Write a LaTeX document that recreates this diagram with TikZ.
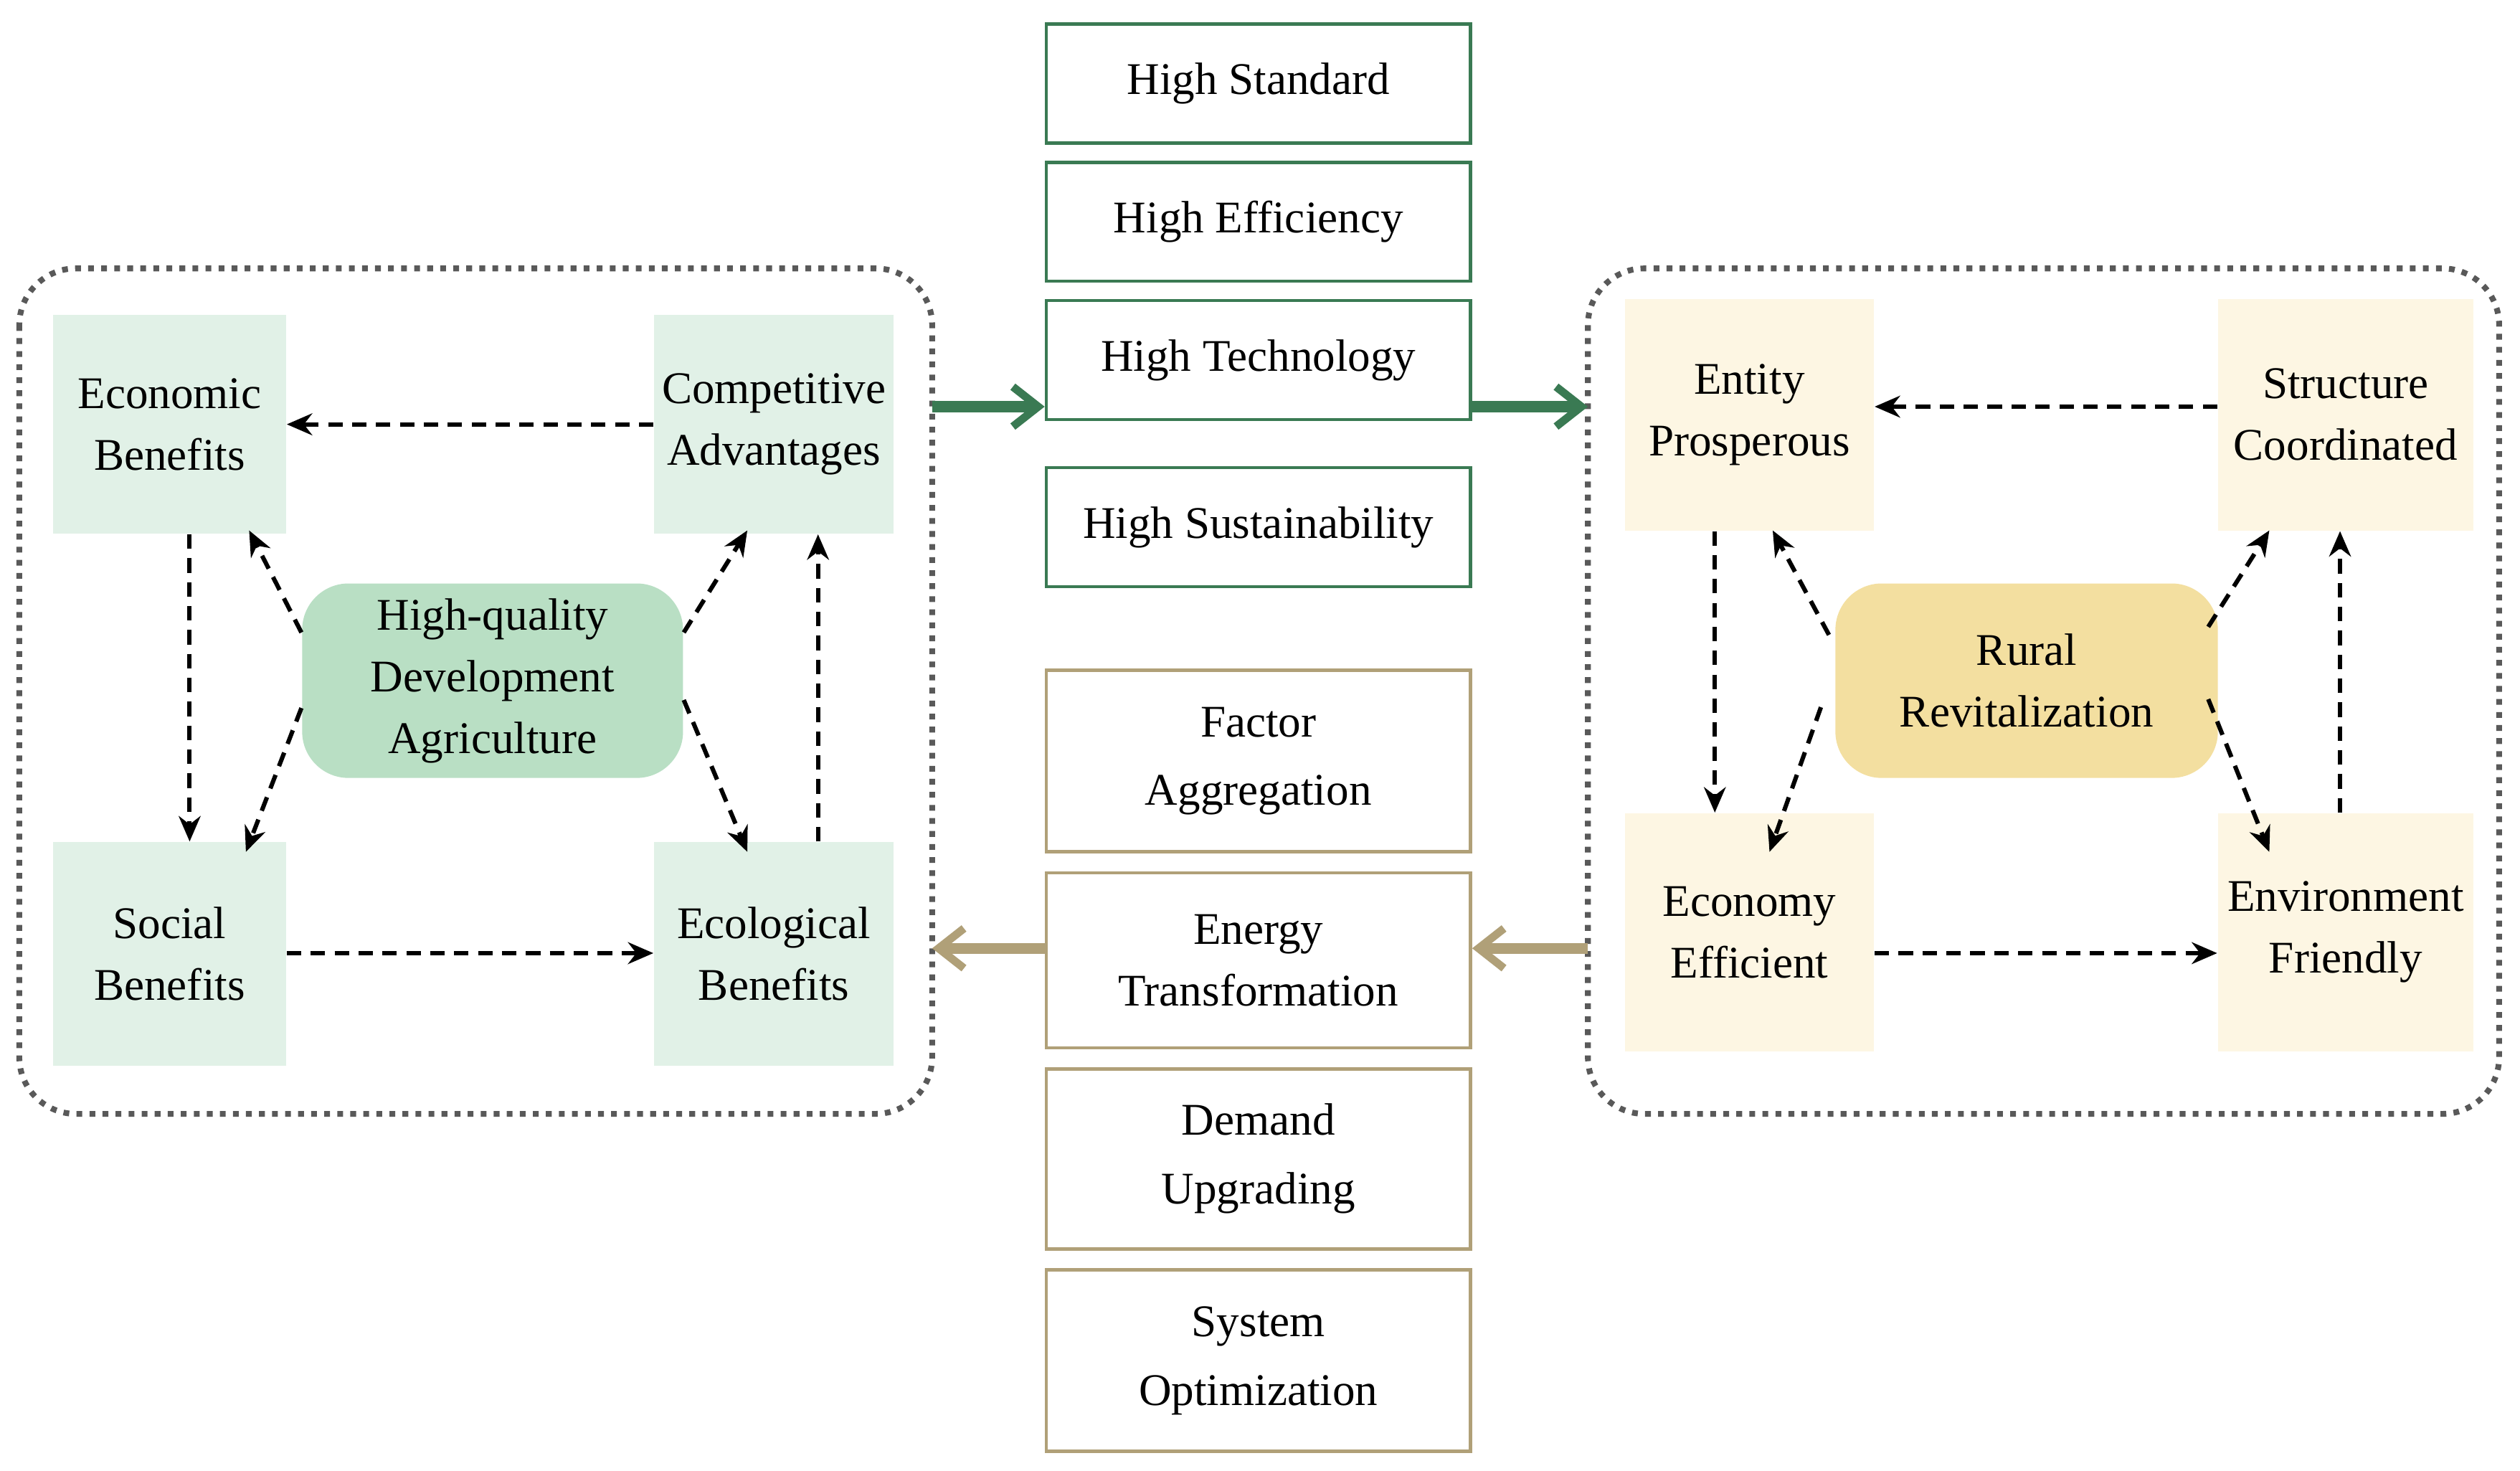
\documentclass[tikz,border=0pt]{standalone}
\usepackage{fontspec}
\setmainfont{Liberation Serif}
\usetikzlibrary{arrows.meta,calc}
\begin{document}
\begin{tikzpicture}[x=0.0156cm,y=-0.0156cm,
  every node/.style={font=\fontsize{12.5}{17}\selectfont, align=center, inner sep=0pt},
  gbox/.style={fill=green!45!cyan!8!white, fill=GL},
  ybox/.style={fill=YL},
  mg/.style={draw=MG, line width=0.9pt, fill=white},
  mb/.style={draw=MB, line width=0.9pt, fill=white},
  da/.style={dashed, dash pattern=on 4pt off 2.6pt, line width=1.2pt, -{Stealth[length=7pt,width=6pt]}},
  thk/.style={line width=3pt, -{Straight Barb[length=7pt,width=11pt,line width=2.2pt]}},
  dot/.style={draw=black!65, dotted, line width=1.6pt, rounded corners=0.55cm}]
\definecolor{GL}{HTML}{E1F1E7}\definecolor{GC}{HTML}{B9DFC4}
\definecolor{YL}{HTML}{FDF6E3}\definecolor{YC}{HTML}{F3DFA0}
\definecolor{MG}{HTML}{3A7A53}\definecolor{MB}{HTML}{B0A078}
\newcommand{\bx}[7]{\node[#6, minimum width={(#4-#2)*0.0156cm}, minimum height={(#5-#3)*0.0156cm}] (#1) at ({(#2+#4)/2},{(#3+#5)/2}) {#7};}
\useasboundingbox (0,0) rectangle (1568,915);
% dotted frames
\draw[dot] (12,167) rectangle (580,693);
\draw[dot] (988,167) rectangle (1555,693);
\coordinate (lfr) at (580,253); \coordinate (lfb) at (580,590);
\coordinate (rfl) at (988,253); \coordinate (rfb) at (988,590);
% left
\bx{eb}{33}{196}{178}{332}{fill=GL}{Economic\\Benefits}
\bx{ca}{407}{196}{556}{332}{fill=GL}{Competitive\\Advantages}
\bx{sb}{33}{524}{178}{663}{fill=GL}{Social\\Benefits}
\bx{ecb}{407}{524}{556}{663}{fill=GL}{Ecological\\Benefits}
\bx{hq}{188}{363}{425}{484}{fill=GC,rounded corners=0.45cm}{High-quality\\Development\\Agriculture}
\draw[da] (ca.west) -- (eb.east);
\draw[da] (eb.south-|118,0) -- (sb.north-|118,0);
\draw[da] (sb.east|-0,593) -- (ecb.west|-0,593);
\draw[da] (ecb.north-|509,0) -- (ca.south-|509,0);
\draw[da] ($(hq.west)+(0,-30)$) -- (155,330);
\draw[da] ($(hq.east)+(0,-30)$) -- (465,330);
\draw[da] ($(hq.west)+(0,17)$) -- (153,530);
\draw[da] ($(hq.east)+(0,12)$) -- (465,530);
% right
\bx{ep}{1011}{186}{1166}{330}{fill=YL}{Entity\\Prosperous}
\bx{sc}{1380}{186}{1539}{330}{fill=YL}{Structure\\Coordinated}
\bx{ee}{1011}{506}{1166}{654}{fill=YL}{Economy\\Efficient}
\bx{ef}{1380}{506}{1539}{654}{fill=YL}{Environment\\Friendly}
\bx{rr}{1142}{363}{1380}{484}{fill=YC,rounded corners=0.45cm}{Rural\\Revitalization}
\draw[da] (sc.west|-0,253) -- (ep.east|-0,253);
\draw[da] (ep.south-|1067,0) -- (ee.north-|1067,0);
\draw[da] (ee.east|-0,593) -- (ef.west|-0,593);
\draw[da] (ef.north-|1456,0) -- (sc.south-|1456,0);
\draw[da] (1138,395) -- (1103,330);
\draw[da] (1374,390) -- (1412,330);
\draw[da] (1133,440) -- (1101,530);
\draw[da] (1374,435) -- (1412,530);
% middle
\bx{hs}{651}{15}{915}{89}{mg}{High Standard}
\bx{he}{651}{101}{915}{175}{mg}{High Efficiency}
\bx{ht}{651}{187}{915}{261}{mg}{High Technology}
\bx{hsu}{651}{291}{915}{365}{mg}{High Sustainability}
\bx{fa}{651}{417}{915}{530}{mb}{Factor\\[2pt]Aggregation}
\bx{et}{651}{543}{915}{652}{mb}{Energy\\Transformation}
\bx{du}{651}{665}{915}{777}{mb}{Demand\\[2pt]Upgrading}
\bx{so}{651}{790}{915}{903}{mb}{System\\[2pt]Optimization}
\draw[thk,draw=MG] (lfr) -- (ht.west|-lfr);
\draw[thk,draw=MG] (ht.east|-rfl) -- (rfl);
\draw[thk,draw=MB] (et.west|-lfb) -- (lfb);
\draw[thk,draw=MB] (rfb) -- (et.east|-rfb);
\end{tikzpicture}
\end{document}
